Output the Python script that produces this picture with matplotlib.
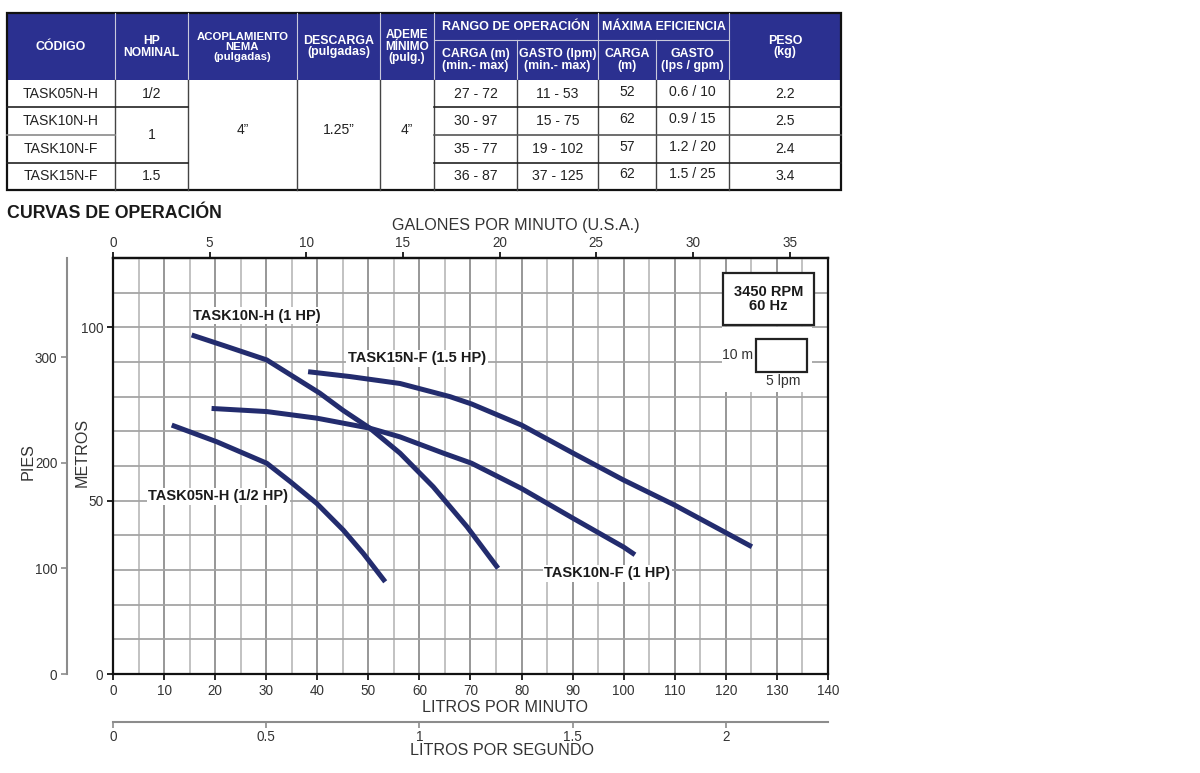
import matplotlib
matplotlib.use('Agg')
import matplotlib.pyplot as plt
from matplotlib import font_manager
from matplotlib.patches import Rectangle

# ---- tabla de modelos ----
codes = ['TASK05N-H', 'TASK10N-H', 'TASK10N-F', 'TASK15N-F']
hp_nominal = ['1/2', '1', '1.5']          # "1" cubre TASK10N-H y TASK10N-F
coupling = '4”'
discharge = '1.25”'
min_casing = '4”'
head_range = ['27 - 72', '30 - 97', '35 - 77', '36 - 87']
flow_range = ['11 - 53', '15 - 75', '19 - 102', '37 - 125']
best_head = ['52', '62', '57', '62']
best_flow = ['0.6 / 10', '0.9 / 15', '1.2 / 20', '1.5 / 25']
weight = ['2.2', '2.5', '2.4', '3.4']

header_main = ['CÓDIGO', 'HP\nNOMINAL', 'ACOPLAMIENTO\nNEMA\n(pulgadas)',
               'DESCARGA\n(pulgadas)', 'ADEME\nMÍNIMO\n(pulg.)', 'PESO\n(kg)']
header_groups = ['RANGO DE OPERACIÓN', 'MÁXIMA EFICIENCIA']
header_sub = ['CARGA (m)\n(min.- max)', 'GASTO (lpm)\n(min.- max)',
              'CARGA\n(m)', 'GASTO\n(lps / gpm)']

# ---- curvas (lpm, m) ----
flow_05h = [11.5, 20.3, 30.1, 34.7, 39.9, 45.1, 49.0, 53.3]
head_05h = [71.8, 67.0, 60.8, 55.5, 49.2, 41.5, 34.8, 26.6]

flow_10h = [15.4, 22.0, 30.1, 35.3, 40.5, 45.1, 50.3, 56.2, 62.7, 69.3, 75.4]
head_10h = [97.8, 94.6, 90.6, 85.8, 81.0, 76.0, 70.9, 63.7, 54.0, 42.5, 30.5]

flow_10f = [19.3, 30.1, 39.9, 50.3, 56.2, 64.7, 70.2, 80.0, 90.1, 100.0, 102.2]
head_10f = [76.6, 75.7, 73.8, 70.9, 68.4, 63.7, 60.8, 53.5, 44.9, 36.6, 34.4]

flow_15f = [38.2, 46.4, 56.2, 66.0, 70.2, 80.0, 90.1, 99.9, 110.0, 120.2, 125.1]
head_15f = [87.2, 85.8, 83.8, 80.0, 77.9, 71.8, 63.7, 56.0, 48.7, 40.6, 36.7]

curve_labels = ['TASK05N-H (1/2 HP)', 'TASK10N-H (1 HP)', 'TASK10N-F (1 HP)', 'TASK15N-F (1.5 HP)']

lpm_ticks = list(range(0, 141, 10))
gpm_ticks = list(range(0, 36, 5))
lps_ticks = [0, 0.5, 1, 1.5, 2]
lps_labels = ['0', '0.5', '1', '1.5', '2']
metros_ticks = [0, 50, 100]
pies_ticks = [0, 100, 200, 300]

NAVY = '#2b3090'
CURVE = '#232c6e'
TXT = '#333333'

# Arial Narrow en el original; si no hay Liberation Sans Narrow se achica Liberation Sans
available = {f.name for f in font_manager.fontManager.ttflist}
if 'Liberation Sans Narrow' in available:
    NARROW, NS = 'Liberation Sans Narrow', 1.0
else:
    NARROW, NS = 'Liberation Sans', 0.84
BOLD = 'Liberation Sans'
plt.rcParams['font.family'] = [NARROW, 'DejaVu Sans']

fig = plt.figure(figsize=(12, 7.73), dpi=100)

# ---------------- tabla (coordenadas en pixeles) ----------------
tab = fig.add_axes([0, 0, 1, 1])
tab.set_xlim(0, 1200)
tab.set_ylim(773, 0)
tab.axis('off')

cx = [7, 115, 188, 297, 380, 434, 517, 598, 656, 729, 841]
top_y, grp_y, head_y, bot_y = 13, 40, 80, 190
ry = [80, 107, 135, 163, 190]

tab.add_patch(Rectangle((cx[0], top_y), cx[-1] - cx[0], head_y - top_y,
                        facecolor=NAVY, edgecolor='none'))

def ctext(x0, x1, y0, y1, s, size, bold=False, color='white', ls=1.05, dy=0):
    tab.text((x0 + x1) / 2, (y0 + y1) / 2 + dy, s, ha='center', va='center',
             fontsize=size * NS, color=color, fontweight='bold' if bold else 'normal',
             linespacing=ls, family=[NARROW, 'DejaVu Sans'])

main_cols = [(0, 1), (1, 2), (2, 3), (3, 4), (4, 5), (9, 10)]
main_sizes = [10.6, 10.4, 9.8, 10.6, 10.2, 10.6]
for (a, b), txt, fs in zip(main_cols, header_main, main_sizes):
    ctext(cx[a], cx[b], top_y, head_y, txt, fs, bold=True, ls=1.0)
ctext(cx[5], cx[7], top_y, grp_y, header_groups[0], 10.8, bold=True)
ctext(cx[7], cx[9], top_y, grp_y, header_groups[1], 10.6, bold=True)
for i, txt in enumerate(header_sub):
    ctext(cx[5 + i], cx[6 + i], grp_y, head_y, txt, 10.6, bold=True, ls=1.0)

# separadores del encabezado
hdr_lc = '#c9c9dc'
for x in [115, 188, 297, 380, 434, 598, 729]:
    tab.plot([x, x], [top_y, head_y], color=hdr_lc, lw=0.8)
for x in [517, 656]:
    tab.plot([x, x], [grp_y, head_y], color=hdr_lc, lw=0.8)
tab.plot([434, 729], [grp_y, grp_y], color=hdr_lc, lw=0.8)

# cuerpo
for i, c in enumerate(codes):
    ctext(cx[0], cx[1], ry[i], ry[i + 1], c, 12, color='#222')
    ctext(cx[5], cx[6], ry[i], ry[i + 1], head_range[i], 12, color='#222')
    ctext(cx[6], cx[7], ry[i], ry[i + 1], flow_range[i], 12, color='#222')
    ctext(cx[7], cx[8], ry[i], ry[i + 1], best_head[i], 12, color='#222', dy=-2)
    ctext(cx[8], cx[9], ry[i], ry[i + 1], best_flow[i], 12, color='#222', dy=-2)
    ctext(cx[9], cx[10], ry[i], ry[i + 1], weight[i], 12, color='#222')
ctext(cx[1], cx[2], ry[0], ry[1], hp_nominal[0], 12, color='#222')
ctext(cx[1], cx[2], ry[1], ry[3], hp_nominal[1], 12, color='#222')
ctext(cx[1], cx[2], ry[3], ry[4], hp_nominal[2], 12, color='#222')
ctext(cx[2], cx[3], ry[0], ry[4], coupling, 12, color='#222', dy=-5)
ctext(cx[3], cx[4], ry[0], ry[4], discharge, 12, color='#222', dy=-5)
ctext(cx[4], cx[5], ry[0], ry[4], min_casing, 12, color='#222', dy=-5)

for x in cx[1:-1]:
    tab.plot([x, x], [head_y, bot_y], color='#444', lw=1.0)
for y in [107, 163]:
    tab.plot([cx[0], cx[2]], [y, y], color='#222', lw=1.2)
    tab.plot([cx[5], cx[-1]], [y, y], color='#222', lw=1.2)
tab.plot([cx[0], cx[1]], [135, 135], color='#8a8a8a', lw=1.2)
tab.plot([cx[5], cx[-1]], [135, 135], color='#555', lw=1.2)
tab.add_patch(Rectangle((cx[0], top_y), cx[-1] - cx[0], bot_y - top_y,
                        facecolor='none', edgecolor='#111', lw=1.6))

fig.text(7 / 1200, 1 - 214 / 773, 'CURVAS DE OPERACIÓN', ha='left', va='center',
         fontsize=12.8, fontweight='bold', family=BOLD, color='#1a1a1a')

# ---------------- grafica ----------------
ax = fig.add_axes([113 / 1200, 1 - 674 / 773, 715 / 1200, 416 / 773])
ax.set_xlim(0, 140)
ax.set_ylim(0, 120)
ax.set_xticks(lpm_ticks)
ax.set_xticks(range(0, 141, 5), minor=True)
ax.set_yticks(metros_ticks)
ax.set_yticks(range(0, 121, 10), minor=True)
ax.set_axisbelow(True)
ax.xaxis.grid(True, which='major', color='#8f8f8f', lw=1.3)
ax.xaxis.grid(True, which='minor', color='#bdbdbd', lw=1.3)
ax.yaxis.grid(True, which='both', color='#a5a5a5', lw=1.3)
ax.tick_params(which='minor', length=0)
ax.tick_params(which='major', direction='out', length=4, width=1.2, pad=3,
               labelsize=11.6 * NS, labelcolor=TXT, top=False, right=False)
for sp in ax.spines.values():
    sp.set_color('#111')
    sp.set_linewidth(1.6)

curves = [(flow_05h, head_05h), (flow_10h, head_10h), (flow_10f, head_10f), (flow_15f, head_15f)]
for fl, hd in curves:
    ax.plot(fl, hd, color=CURVE, lw=3.6, solid_capstyle='butt', solid_joinstyle='round', zorder=3)

label_pos = [(6.9, 51.3), (15.7, 103.3), (84.4, 29.1), (46.0, 91.1)]
for (lx, ly), lab in zip(label_pos, curve_labels):
    ax.text(lx, ly, lab, ha='left', va='center', fontsize=10.5, fontweight='bold',
            family=BOLD, color='#1a1a1a', zorder=4,
            bbox=dict(facecolor='white', edgecolor='none', pad=1.0))

# recuadro RPM y escala
ax.add_patch(Rectangle((119.2, 81.3), 17.7, 18.8, facecolor='white', edgecolor='none', zorder=2))
ax.add_patch(Rectangle((119.4, 100.7), 17.9, 15.0, facecolor='white', edgecolor='#222', lw=1.6, zorder=4))
ax.text(128.35, 108.2, '3450 RPM\n60 Hz', ha='center', va='center', fontsize=10.5,
        fontweight='bold', family=BOLD, color='#1a1a1a', linespacing=1.0, zorder=5)
ax.add_patch(Rectangle((125.9, 87.1), 10.0, 9.6, facecolor='white', edgecolor='#222', lw=1.6, zorder=4))
ax.text(125.3, 92.0, '10 m', ha='right', va='center', fontsize=12 * NS, color=TXT, zorder=5)
ax.text(131.2, 84.5, '5 lpm', ha='center', va='center', fontsize=12 * NS, color=TXT, zorder=5)

# eje superior: galones por minuto
top = ax.secondary_xaxis('top', functions=(lambda x: x / 3.78541, lambda g: g * 3.78541))
top.set_xticks(gpm_ticks)
top.tick_params(direction='out', length=4, width=1.2, pad=2, labelsize=11.6 * NS, labelcolor=TXT)
top.spines['top'].set_color('#111')
top.spines['top'].set_linewidth(1.6)

# eje inferior: litros por segundo
lps = ax.secondary_xaxis(-0.1154, functions=(lambda x: x / 60.0, lambda s: s * 60.0))
lps.set_xticks(lps_ticks)
lps.set_xticklabels(lps_labels)
lps.tick_params(direction='out', length=4, width=1.2, color='#8c8c8c', pad=2,
                labelsize=11.6 * NS, labelcolor=TXT)
lps.spines['bottom'].set_color('#8c8c8c')
lps.spines['bottom'].set_linewidth(1.5)

# eje izquierdo: pies
pies = ax.secondary_yaxis(-0.0643, functions=(lambda m: m / 0.3048, lambda f: f * 0.3048))
pies.set_yticks(pies_ticks)
pies.tick_params(direction='out', length=4, width=1.2, color='#8c8c8c', pad=3,
                 labelsize=11.6 * NS, labelcolor=TXT)
pies.spines['left'].set_color('#8c8c8c')
pies.spines['left'].set_linewidth(1.5)

tkw = dict(transform=ax.transAxes, ha='center', va='center', color=TXT, fontsize=13.8 * NS)
ax.text(0.564, 1.077, 'GALONES POR MINUTO (U.S.A.)', **tkw)
ax.text(0.548, -0.0817, 'LITROS POR MINUTO', **tkw)
ax.text(0.544, -0.1827, 'LITROS POR SEGUNDO', **tkw)
ax.text(-0.1189, 0.5096, 'PIES', rotation=90, **tkw)
ax.text(-0.0434, 0.5337, 'METROS', rotation=90, **tkw)

fig.savefig('out.png', dpi=100, facecolor='white')
